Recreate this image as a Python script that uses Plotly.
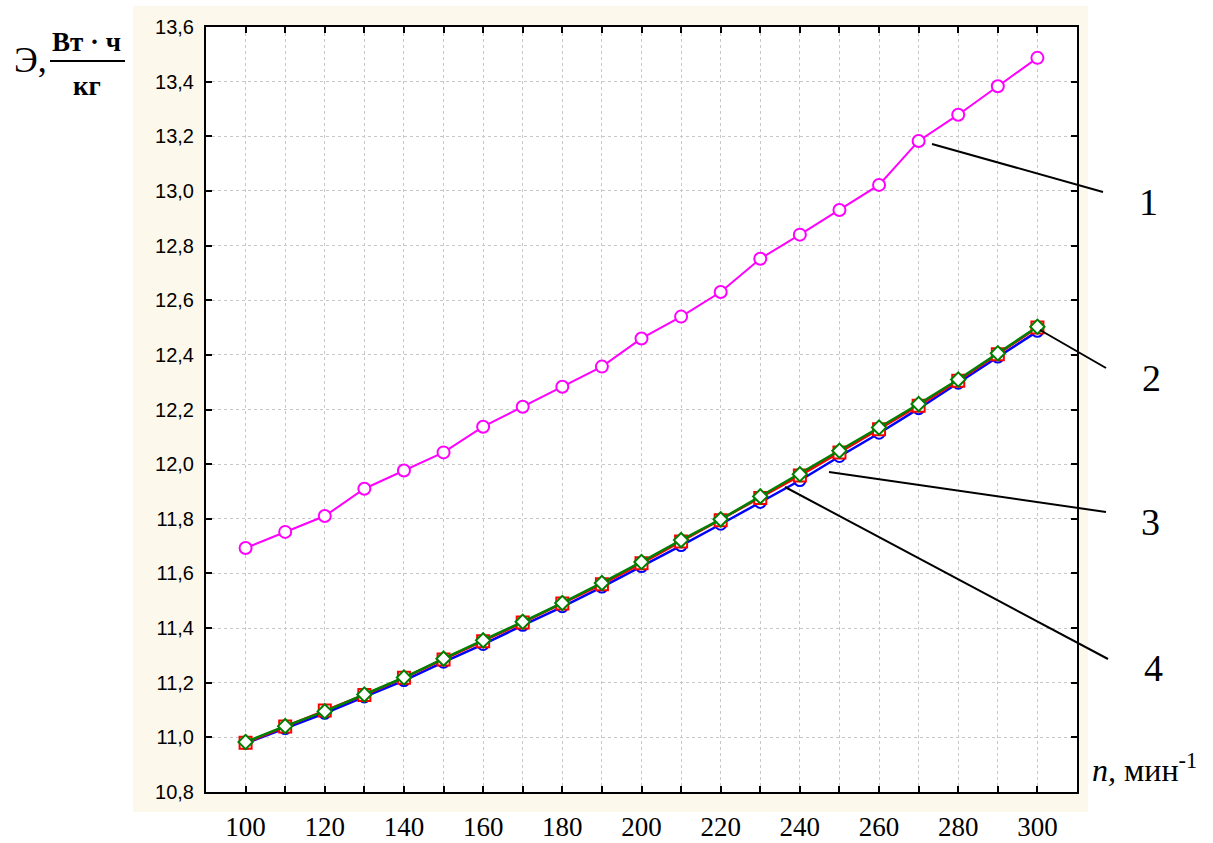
import plotly.graph_objects as go

# Rotational speed, min^-1
n = [100, 110, 120, 130, 140, 150, 160, 170, 180, 190, 200,
     210, 220, 230, 240, 250, 260, 270, 280, 290, 300]

# Specific energy, W*h/kg
e1 = [11.693, 11.752, 11.810, 11.910, 11.977, 12.043, 12.137, 12.210, 12.283, 12.357, 12.460,
      12.540, 12.630, 12.752, 12.840, 12.930, 13.022, 13.183, 13.279, 13.383, 13.487]
e2 = [10.983, 11.041, 11.095, 11.157, 11.219, 11.288, 11.355, 11.423, 11.492, 11.565, 11.642,
      11.722, 11.798, 11.882, 11.963, 12.049, 12.134, 12.220, 12.310, 12.406, 12.503]
e3 = [10.980, 11.040, 11.098, 11.155, 11.218, 11.285, 11.352, 11.420, 11.490, 11.560, 11.637,
      11.717, 11.795, 11.876, 11.958, 12.043, 12.128, 12.214, 12.305, 12.402, 12.500]
e4 = [10.978, 11.032, 11.088, 11.148, 11.208, 11.275, 11.340, 11.410, 11.478, 11.550, 11.625,
      11.702, 11.780, 11.860, 11.940, 12.028, 12.113, 12.203, 12.296, 12.392, 12.486]

x_ticks = list(range(100, 301, 20))
y_ticks = [10.8, 11.0, 11.2, 11.4, 11.6, 11.8, 12.0, 12.2, 12.4, 12.6, 12.8, 13.0, 13.2, 13.4, 13.6]
y_tick_text = [f"{v:.1f}".replace(".", ",") for v in y_ticks]

W, H = 1213, 843
ML, MR, MT, MB = 206, 136, 27, 51
PW, PH = W - ML - MR, H - MT - MB


def px(xp):
    return (xp - ML) / PW


def py(yp):
    return (H - MB - yp) / PH


SERIF = "Liberation Serif, Times New Roman, serif"
SANS = "Liberation Sans, Arial, sans-serif"

fig = go.Figure()

series = [
    (e4, "4", "#0000FF", "circle", 11),
    (e3, "3", "#FF0000", "square", 12),
    (e2, "2", "#008000", "diamond", 11),
    (e1, "1", "#FF00FF", "circle", 12),
]
for ys, name, col, sym, sz in series:
    fig.add_trace(go.Scatter(
        x=n, y=ys, name=name, mode="lines+markers",
        line=dict(color=col, width=2.5 if name != "1" else 2),
        marker=dict(symbol=sym, size=sz, color="white", line=dict(color=col, width=2)),
        cliponaxis=False,
    ))

shapes = [
    # beige panel behind the plot
    dict(type="rect", xref="paper", yref="paper", layer="below",
         x0=px(133), x1=px(1088), y0=py(812), y1=py(6),
         fillcolor="#FDF8EC", line=dict(width=0)),
    # white plotting area
    dict(type="rect", xref="paper", yref="paper", layer="below",
         x0=0, x1=1, y0=0, y1=1, fillcolor="white", line=dict(width=0)),
]

# leader lines to curve numbers
leaders = [((932, 144), (1103, 192)),
           ((1040, 330), (1106, 368)),
           ((829, 472), (1106, 512)),
           ((785, 487), (1108, 659))]
for (xa, ya), (xb, yb) in leaders:
    shapes.append(dict(type="line", xref="paper", yref="paper",
                       x0=px(xa), y0=py(ya), x1=px(xb), y1=py(yb),
                       line=dict(color="black", width=2)))

# fraction bar of the y-axis unit
shapes.append(dict(type="line", xref="paper", yref="paper",
                   x0=px(50), x1=px(125), y0=py(61), y1=py(61),
                   line=dict(color="black", width=2)))

annotations = []
for lbl, (xl, yl) in zip(["1", "2", "3", "4"],
                         [(1148, 202), (1151, 378), (1150, 522), (1153, 668)]):
    annotations.append(dict(text=lbl, xref="paper", yref="paper", x=px(xl), y=py(yl),
                            xanchor="center", yanchor="middle", showarrow=False,
                            font=dict(family=SERIF, size=38, color="black")))

annotations += [
    dict(text="Э,", xref="paper", yref="paper", x=px(12), y=py(60),
         xanchor="left", yanchor="middle", showarrow=False,
         font=dict(family=SERIF, size=36, color="black")),
    dict(text="<b>Вт · ч</b>", xref="paper", yref="paper", x=px(87), y=py(42),
         xanchor="center", yanchor="middle", showarrow=False,
         font=dict(family=SERIF, size=27, color="black")),
    dict(text="<b>кг</b>", xref="paper", yref="paper", x=px(87), y=py(86),
         xanchor="center", yanchor="middle", showarrow=False,
         font=dict(family=SERIF, size=27, color="black")),
    dict(text="<i>n,</i> мин<sup>-1</sup>", xref="paper", yref="paper", x=px(1090), y=py(768),
         xanchor="left", yanchor="middle", showarrow=False,
         font=dict(family=SERIF, size=32, color="black")),
]

axis_common = dict(
    ticks="inside", ticklen=6, tickwidth=2, tickcolor="black",
    showline=True, linecolor="black", linewidth=2, mirror="ticks",
    showgrid=True, gridcolor="#C8C8C8", griddash="dot", gridwidth=1,
    zeroline=False, automargin=False,
)

fig.update_layout(
    width=W, height=H,
    margin=dict(l=ML, r=MR, t=MT, b=MB, pad=0, autoexpand=False),
    paper_bgcolor="white", plot_bgcolor="white",
    showlegend=False,
    shapes=shapes, annotations=annotations,
    xaxis=dict(range=[90, 310], tickvals=x_ticks, ticklabelstandoff=10,
               tickfont=dict(family=SERIF, size=27, color="black"),
               minor=dict(dtick=10, tick0=100, ticks="inside", ticklen=6, tickwidth=2,
                          tickcolor="black", showgrid=True, gridcolor="#C8C8C8",
                          griddash="dot", gridwidth=1),
               **axis_common),
    yaxis=dict(range=[10.8, 13.6], tickvals=y_ticks, ticktext=y_tick_text,
               ticklabelstandoff=6,
               tickfont=dict(family=SANS, size=20, color="black"),
               **axis_common),
)

fig.write_html("out.html")
